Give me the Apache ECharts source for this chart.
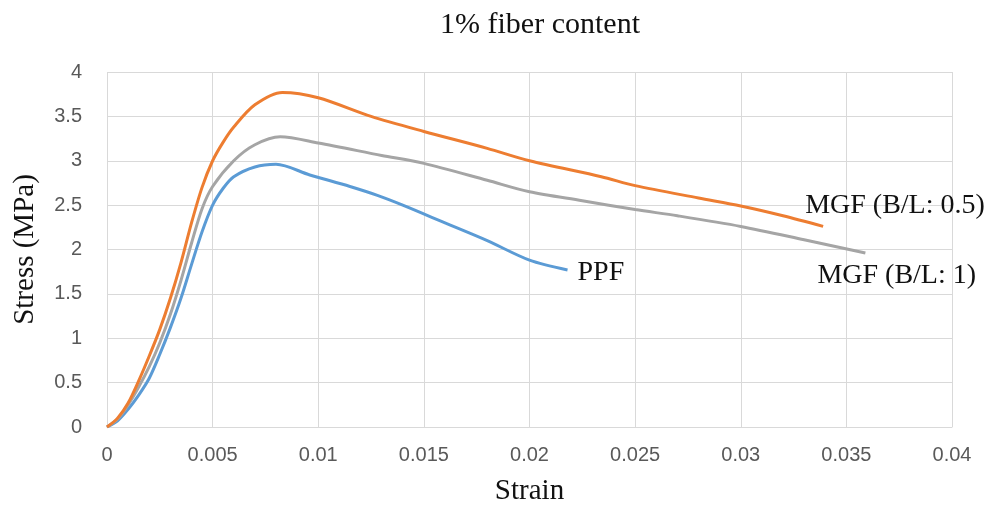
<!DOCTYPE html>
<html>
<head>
<meta charset="utf-8">
<script src="https://cdn.jsdelivr.net/npm/echarts@6/dist/echarts.min.js"></script>
<style>
  html, body { margin: 0; padding: 0; background: #fff; }
  #chart { width: 994px; height: 511px; }
</style>
</head>
<body>
<div id="chart"></div>
<script>
// Stress–strain curves, 1% fiber content
const titleText = '1% fiber content';
const xName = 'Strain';
const yName = 'Stress (MPa)';

const ppfStrain = [0, 0.0005, 0.001, 0.0015, 0.002, 0.0025, 0.003, 0.0035, 0.004, 0.0045, 0.005, 0.0055, 0.006, 0.007, 0.008, 0.0096, 0.0115, 0.0128, 0.014, 0.016, 0.018, 0.02, 0.0218];
const ppfStress = [0, 0.07, 0.2, 0.36, 0.55, 0.82, 1.12, 1.45, 1.83, 2.2, 2.5, 2.69, 2.82, 2.93, 2.96, 2.84, 2.71, 2.61, 2.5, 2.3, 2.1, 1.88, 1.77];

const mgf05Strain = [0, 0.0005, 0.001, 0.0015, 0.002, 0.0025, 0.003, 0.0035, 0.004, 0.0045, 0.005, 0.0055, 0.006, 0.007, 0.0083, 0.01, 0.0125, 0.015, 0.018, 0.02, 0.0234, 0.025, 0.028, 0.03, 0.032, 0.0339];
const mgf05Stress = [0, 0.1, 0.27, 0.52, 0.8, 1.1, 1.45, 1.85, 2.3, 2.7, 3.0, 3.21, 3.38, 3.63, 3.77, 3.71, 3.5, 3.33, 3.14, 3.0, 2.82, 2.72, 2.58, 2.49, 2.38, 2.26];

const mgf1Strain = [0, 0.0005, 0.001, 0.0015, 0.002, 0.0025, 0.003, 0.0035, 0.004, 0.0045, 0.005, 0.006, 0.007, 0.0082, 0.01, 0.013, 0.015, 0.018, 0.02, 0.0225, 0.025, 0.027, 0.03, 0.033, 0.0359];
const mgf1Stress = [0, 0.09, 0.25, 0.45, 0.68, 0.95, 1.27, 1.65, 2.07, 2.46, 2.71, 3.0, 3.18, 3.27, 3.2, 3.06, 2.97, 2.78, 2.65, 2.55, 2.45, 2.38, 2.26, 2.11, 1.96];

const xTicks = [0, 0.005, 0.01, 0.015, 0.02, 0.025, 0.03, 0.035, 0.04];
const yTicks = [0, 0.5, 1, 1.5, 2, 2.5, 3, 3.5, 4];

const pair = (xs, ys) => xs.map((x, i) => [x, ys[i]]);
const serif = '"Liberation Serif", "Times New Roman", serif';
const sans = '"Liberation Sans", Arial, sans-serif';

const labelStyle = (offset) => ({
  show: true,
  formatter: '{a}',
  fontFamily: serif,
  fontSize: 28,
  color: '#111',
  offset: offset
});

const tickText = (list) => (v) => {
  const t = list.find(k => Math.abs(k - v) < 1e-9);
  return t === undefined ? '' : String(t);
};

const curve = (name, xs, ys, color, offset) => ({
  name: name, type: 'line', smooth: 0.3, showSymbol: false,
  data: pair(xs, ys),
  lineStyle: { color: color, width: 3 },
  endLabel: labelStyle(offset)
});

const chart = echarts.init(document.getElementById('chart'), null, { renderer: 'canvas' });
chart.setOption({
  animation: false,
  backgroundColor: '#fff',
  title: {
    text: titleText,
    left: 535,
    textAlign: 'center',
    top: 5,
    textStyle: { fontFamily: serif, fontSize: 30, fontWeight: 'normal', color: '#111' }
  },
  grid: { left: 107, right: 42, top: 72, bottom: 84, containLabel: false },
  xAxis: {
    type: 'value',
    min: 0, max: 0.04, interval: 0.005,
    name: xName,
    nameLocation: 'middle',
    nameGap: 50,
    nameTextStyle: { fontFamily: serif, fontSize: 29, color: '#111' },
    axisLine: { show: true, lineStyle: { color: '#d9d9d9' } },
    axisTick: { show: false },
    splitLine: { show: true, lineStyle: { color: '#d9d9d9' } },
    axisLabel: { fontFamily: sans, fontSize: 20, color: '#595959', margin: 18, formatter: tickText(xTicks) }
  },
  yAxis: {
    type: 'value',
    min: 0, max: 4, interval: 0.5,
    name: yName,
    nameLocation: 'middle',
    nameGap: 67,
    nameTextStyle: { fontFamily: serif, fontSize: 29, color: '#111' },
    axisLine: { show: false },
    axisTick: { show: false },
    splitLine: { show: true, lineStyle: { color: '#d9d9d9' } },
    axisLabel: { fontFamily: sans, fontSize: 20, color: '#595959', margin: 25, formatter: tickText(yTicks) }
  },
  series: [
    curve('PPF', ppfStrain, ppfStress, '#5B9BD5', [2, 3]),
    curve('MGF (B/L: 1)', mgf1Strain, mgf1Stress, '#A5A5A5', [-56, 23]),
    curve('MGF (B/L: 0.5)', mgf05Strain, mgf05Stress, '#ED7D31', [-26, -21])
  ]
});
</script>
</body>
</html>
